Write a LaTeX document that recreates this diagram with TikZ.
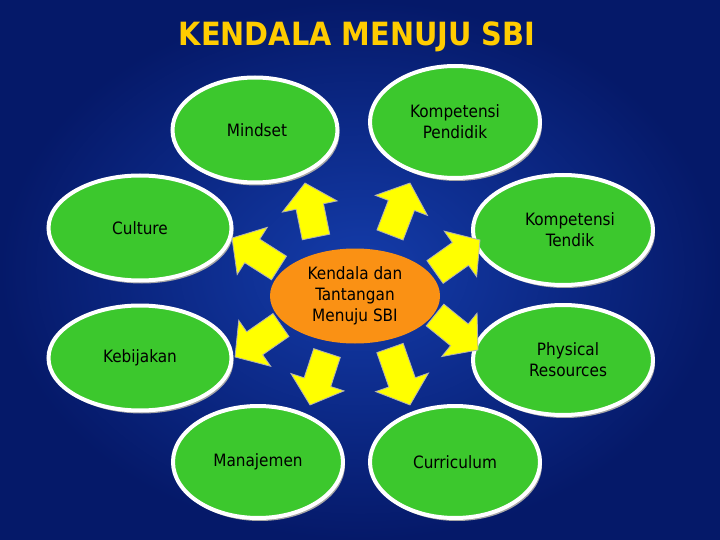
\documentclass[tikz,border=0pt]{standalone}
\usepackage{fontspec}
\setmainfont{DejaVu Sans Condensed}
\usetikzlibrary{shadows,calc,shapes.geometric}
\definecolor{bgin}{RGB}{20,60,170}
\definecolor{bgout}{RGB}{5,25,105}
\definecolor{grn}{RGB}{60,200,45}
\definecolor{org}{RGB}{250,145,20}
\definecolor{ttl}{RGB}{255,204,0}
\definecolor{ylw}{RGB}{255,255,0}
\tikzset{
  bub/.style={ellipse,draw=white,line width=4pt,fill=grn,minimum width=#1,minimum height=105pt,align=center,font=\fontsize{17}{21}\selectfont,drop shadow={shadow xshift=2pt,shadow yshift=-3pt,fill=gray!70,opacity=1},inner sep=0pt},
  bub/.default=175pt,
  ctr/.style={ellipse,fill=org,minimum width=170pt,minimum height=95pt,align=center,font=\fontsize{17}{21}\selectfont,inner sep=0pt},
  barr/.style={fill=ylw,draw=gray!60,line width=0.8pt}
}
\newcommand\barrow[4]{%
  \pgfmathsetmacro\ang{atan2(-(#4-#2),#3-#1)}%
  \pgfmathsetmacro\len{veclen(#3-#1,#4-#2)}%
  \begin{scope}[shift={(#1,#2)},rotate=\ang]
  \draw[barr] (0,-14)--(\len-24,-14)--(\len-24,-28)--(\len,0)--(\len-24,28)--(\len-24,14)--(0,14)--cycle;
  \end{scope}}
\begin{document}
\begin{tikzpicture}[x=1pt,y=-1pt]
\shade[inner color=bgin,outer color=bgout] (0,0) rectangle (720,540);
\useasboundingbox (0,0) rectangle (720,540);
\node[font=\bfseries\fontsize{32}{34}\selectfont,text=ttl] (title) at (357,37) {KENDALA MENUJU SBI};
\node[bub=165pt] (mind) at (255,130) {\hspace*{4pt}Mindset};
\node[bub=170pt,minimum height=112pt] (kp) at (455,122) {Kompetensi\\Pendidik};
\node[bub=183pt] (cul) at (140,228) {Culture};
\node[bub=180pt,minimum height=110pt] (kt) at (563,230) {\hspace*{14pt}Kompetensi\\\hspace*{14pt}Tendik};
\node[bub=183pt] (keb) at (140,358) {Kebijakan};
\node[bub=180pt,minimum height=110pt] (phy) at (563,360) {\hspace*{10pt}Physical\\\hspace*{10pt}Resources};
\node[bub=170pt,minimum height=112pt] (man) at (258,462) {Manajemen};
\node[bub=170pt,minimum height=112pt] (cur) at (455,462) {Curriculum};
\node[ctr] (c) at (355,296) {Kendala dan\\Tantangan\\Menuju SBI};
\barrow{316}{237}{305}{183}
\barrow{390}{235}{410}{183}
\barrow{279}{268}{232}{238}
\barrow{435}{272}{480}{240}
\barrow{281}{325}{235}{357}
\barrow{435}{315}{478}{350}
\barrow{327}{353}{310}{405}
\barrow{390}{348}{410}{405}
\end{tikzpicture}
\end{document}
